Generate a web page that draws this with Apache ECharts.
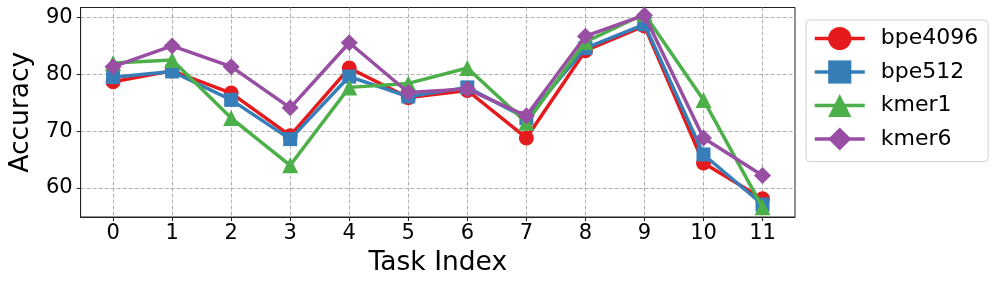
<!DOCTYPE html>
<html>
<head>
<meta charset="utf-8">
<script src="https://cdn.jsdelivr.net/npm/echarts@6/dist/echarts.min.js"></script>
<style>
  html, body { margin: 0; padding: 0; background: #fff; }
  #chart { width: 997px; height: 287px; }
</style>
</head>
<body>
<div id="chart"></div>
<script>
const taskIndex = [0, 1, 2, 3, 4, 5, 6, 7, 8, 9, 10, 11];
const bpe4096 = [78.7, 80.6, 76.7, 69.2, 81.1, 75.9, 77.15, 68.8, 84.15, 88.5, 64.4, 58.1];
const bpe512  = [79.5, 80.5, 75.5, 68.6, 79.6, 76.1, 77.7, 72.3, 84.6, 88.8, 65.9, 57.1];
const kmer1   = [82.0, 82.5, 72.3, 64.0, 77.7, 78.4, 81.1, 71.5, 85.7, 90.6, 75.5, 56.6];
const kmer6   = [81.35, 85.0, 81.35, 74.1, 85.55, 76.8, 77.4, 72.7, 86.7, 90.4, 68.8, 62.2];
const yTicks = [60, 70, 80, 90];
const seriesNames = ['bpe4096', 'bpe512', 'kmer1', 'kmer6'];

const colors = ['#e41a1c', '#377eb8', '#4daf4a', '#984ea3'];
const symbols = ['circle', 'rect', 'triangle', 'diamond'];
const sizes = [15, 14, 16, 17];
const seriesData = [bpe4096, bpe512, kmer1, kmer6];

const FONT = 'DejaVu Sans';
const chart = echarts.init(document.getElementById('chart'), null, { renderer: 'canvas' });

const series = seriesNames.map((name, k) => ({
  name,
  type: 'line',
  data: taskIndex.map((x, i) => [x, seriesData[k][i]]),
  symbol: symbols[k],
  symbolSize: sizes[k],
  showAllSymbol: true,
  lineStyle: { color: colors[k], width: 3.5 },
  itemStyle: { color: colors[k] },
  emphasis: { disabled: true },
  animation: false,
  z: 3 + k
}));

chart.setOption({
  animation: false,
  grid: {
    left: 76, right: 202, top: 7.5, bottom: 70,
    show: true, borderColor: '#222', borderWidth: 1, backgroundColor: 'transparent'
  },
  legend: {
    orient: 'vertical',
    left: 806, top: 20,
    itemWidth: 50, itemHeight: 29,
    itemGap: 4.5,
    padding: [4, 10, 8, 7],
    borderColor: '#d0d0d0', borderWidth: 1, borderRadius: 4,
    lineStyle: { width: 3.5 },
    textStyle: { fontFamily: FONT, fontSize: 22, color: '#000', padding: [0, 0, 0, 11], height: 29, lineHeight: 29 },
    data: seriesNames
  },
  xAxis: {
    type: 'value',
    min: -0.55, max: 11.55,
    name: 'Task Index',
    nameLocation: 'middle',
    nameGap: 33,
    nameTextStyle: { fontFamily: FONT, fontSize: 26.5, color: '#000' },
    axisLine: { show: true, onZero: false, lineStyle: { color: '#222', width: 1 } },
    axisTick: { show: true, length: 4, lineStyle: { color: '#222' }, customValues: taskIndex },
    axisLabel: { fontFamily: FONT, fontSize: 21, color: '#000', margin: 6, customValues: taskIndex },
    splitLine: { show: true, lineStyle: { color: '#b0b0b0', type: [4, 2], width: 1 } }
  },
  yAxis: {
    type: 'value',
    min: 54.9, max: 91.75,
    name: 'Accuracy',
    nameLocation: 'middle',
    nameGap: 43,
    nameTextStyle: { fontFamily: FONT, fontSize: 26.5, color: '#000' },
    axisLine: { show: true, onZero: false, lineStyle: { color: '#222', width: 1 } },
    axisTick: { show: true, length: 4, lineStyle: { color: '#222' }, customValues: yTicks },
    axisLabel: { fontFamily: FONT, fontSize: 21, color: '#000', margin: 8, customValues: yTicks },
    splitLine: { show: true, lineStyle: { color: '#b0b0b0', type: [4, 2], width: 1 } }
  },
  series
});
</script>
</body>
</html>
